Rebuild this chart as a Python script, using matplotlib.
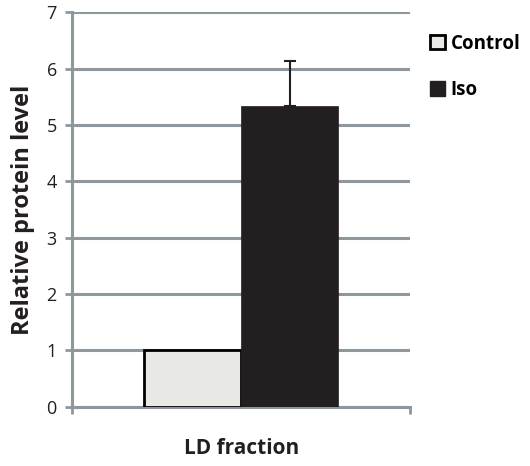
import numpy as np
import matplotlib.pyplot as plt
import matplotlib as mpl
from matplotlib.patches import Patch

mpl.rcParams['font.family'] = ['Open Sans', 'DejaVu Sans']

# data
groups = ['Control', 'Iso']
values = [1.0, 5.33]
errors = [0.0, 0.8]
colors = ['#e8e9e4', '#231f20']
y_ticks = [0, 1, 2, 3, 4, 5, 6, 7]

grid_col = '#8e969e'

fig = plt.figure(figsize=(5.3, 4.66), dpi=100)
ax = fig.add_axes([0.136, 0.127, 0.638, 0.847])

width = 0.287
offsets = [-width / 2, width / 2]
for i, g in enumerate(groups):
    ec = 'black' if i == 0 else colors[i]
    ax.bar(offsets[i], values[i], width, color=colors[i], edgecolor=ec,
           linewidth=2 if i == 0 else 0.5, zorder=3)
    if errors[i] > 0:
        ax.errorbar(offsets[i], values[i], yerr=[[0], [errors[i]]], fmt='none',
                    ecolor='#231f20', elinewidth=1.5, capsize=4, capthick=1.5, zorder=4)

ax.set_xlim(-0.5, 0.5)
ax.set_ylim(0, 7)
ax.set_yticks(y_ticks)
ax.set_xticks([-0.5, 0.5])
ax.set_xticklabels(['', ''])
ax.yaxis.grid(True, color=grid_col, linewidth=2.2, zorder=1)
ax.set_axisbelow(True)

for s in ['top', 'right']:
    ax.spines[s].set_visible(False)
for s in ['left', 'bottom']:
    ax.spines[s].set_color(grid_col)
    ax.spines[s].set_linewidth(2.2)
ax.tick_params(axis='both', color=grid_col, width=2, length=5, labelsize=13,
               labelcolor='#231f20')
ax.tick_params(axis='y', pad=6)

ax.set_ylabel('Relative protein level', fontsize=17, fontweight='bold',
              color='#231f20', labelpad=8)
ax.set_xlabel('LD fraction', fontsize=15, fontweight='bold', color='#231f20',
              labelpad=14)

handles = [Patch(facecolor=colors[0], edgecolor='black', linewidth=2),
           Patch(facecolor=colors[1], edgecolor=colors[1])]
ax.legend(handles, groups, loc='upper left', bbox_to_anchor=(1.058, 0.945),
          frameon=False, handlelength=0.8, handleheight=0.8, borderpad=0,
          handletextpad=0.3, labelspacing=1.4, borderaxespad=0,
          prop={'weight': 'bold', 'size': 13.5})

fig.savefig('out.png', dpi=100)
